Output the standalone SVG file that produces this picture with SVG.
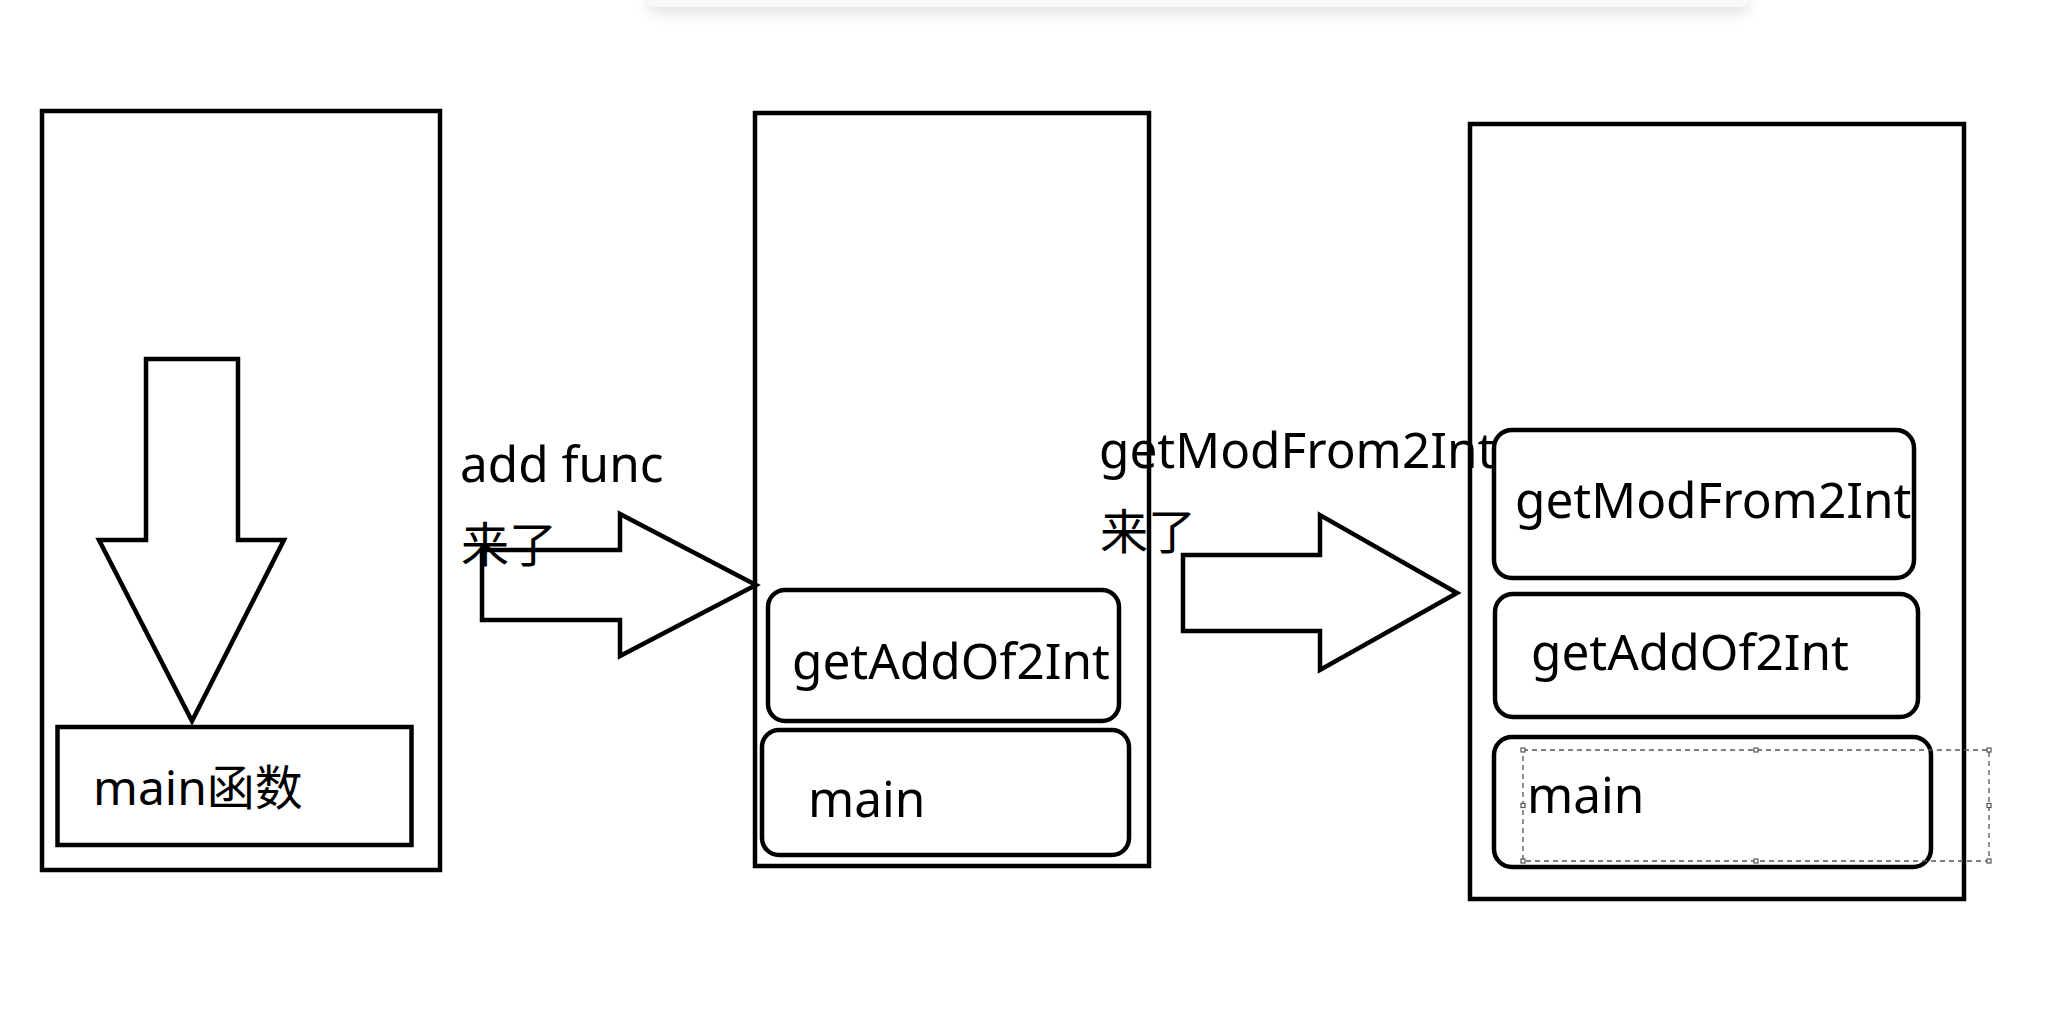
<svg xmlns="http://www.w3.org/2000/svg" width="2053" height="1021" viewBox="0 0 2053 1021">
<defs>
<style>
.frame{fill:none;stroke:#000;stroke-width:4.5}
.box{fill:#fff;stroke:#000;stroke-width:4.5}
.arrow{fill:none;stroke:#000;stroke-width:4.5;stroke-linejoin:miter}
.t{font-family:"Noto Sans","Noto Sans CJK SC",sans-serif;font-size:48px;fill:#000}
.w{font-size:49.5px}
.sel{fill:none;stroke:#555;stroke-width:1.3;stroke-dasharray:5 4}
.h{fill:#fff;stroke:#555;stroke-width:1.2}
</style>
<filter id="sh" x="-5%" y="-100%" width="110%" height="400%">
<feDropShadow dx="0" dy="6" stdDeviation="7" flood-color="#000" flood-opacity="0.12"/>
</filter>
</defs>
<rect width="2053" height="1021" fill="#fff"/>
<path id="card" d="M649,-10 H1748 V0 Q1748,7 1740,7 H657 Q649,7 649,0 Z" fill="#f8f8f8" filter="url(#sh)"/>

<g id="stack1">
<rect class="frame" x="42" y="111" width="398" height="759"/>
<g id="main-frame1">
<rect class="frame" x="57.5" y="727" width="354" height="118"/>
<text class="t" x="93" y="805">main函数</text>
</g>
</g>

<g id="stack2">
<rect class="frame" x="755" y="113" width="394" height="753"/>
<g id="getAdd2">
<rect class="box" x="768" y="590" width="351" height="131" rx="17"/>
<text class="t w" x="792" y="679">getAddOf2Int</text>
</g>
<g id="main2">
<rect class="box" x="762" y="730" width="367" height="125" rx="17"/>
<text class="t w" x="808" y="817">main</text>
</g>
</g>

<g id="labels">
<text class="t w" x="460" y="482">add func</text>
<text class="t" x="461" y="562">来了</text>
<text class="t w" x="1099" y="468">getModFrom2Int</text>
<text class="t" x="1100" y="549">来了</text>
</g>

<g id="stack3">
<rect class="frame" x="1470" y="124" width="494" height="775"/>
<g id="getMod3">
<rect class="box" x="1494" y="430" width="420" height="148" rx="18"/>
<text class="t w" x="1515" y="518">getModFrom2Int</text>
</g>
<g id="getAdd3">
<rect class="box" x="1495" y="594" width="423" height="123" rx="18"/>
<text class="t w" x="1531" y="670">getAddOf2Int</text>
</g>
<g id="main3">
<rect class="box" x="1494" y="737" width="437" height="130" rx="18"/>
<text class="t w" x="1527" y="813">main</text>
</g>
<g id="selection">
<rect class="sel" x="1523" y="750" width="466" height="111"/>
<rect class="h" x="1521" y="748" width="4" height="4"/>
<rect class="h" x="1754" y="748" width="4" height="4"/>
<rect class="h" x="1987" y="748" width="4" height="4"/>
<rect class="h" x="1521" y="803.5" width="4" height="4"/>
<rect class="h" x="1987" y="803.5" width="4" height="4"/>
<rect class="h" x="1521" y="859" width="4" height="4"/>
<rect class="h" x="1754" y="859" width="4" height="4"/>
<rect class="h" x="1987" y="859" width="4" height="4"/>
</g>
</g>

<g id="connectors">
<polygon class="arrow" points="146,359 238,359 238,540 284,540 192,721 99,540 146,540"/>
<polygon class="arrow" points="482,550 620,550 620,514 756,585 620,656 620,620 482,620"/>
<polygon class="arrow" points="1183,555 1320,555 1320,515 1457,593 1320,670 1320,631 1183,631"/>
</g>
</svg>
